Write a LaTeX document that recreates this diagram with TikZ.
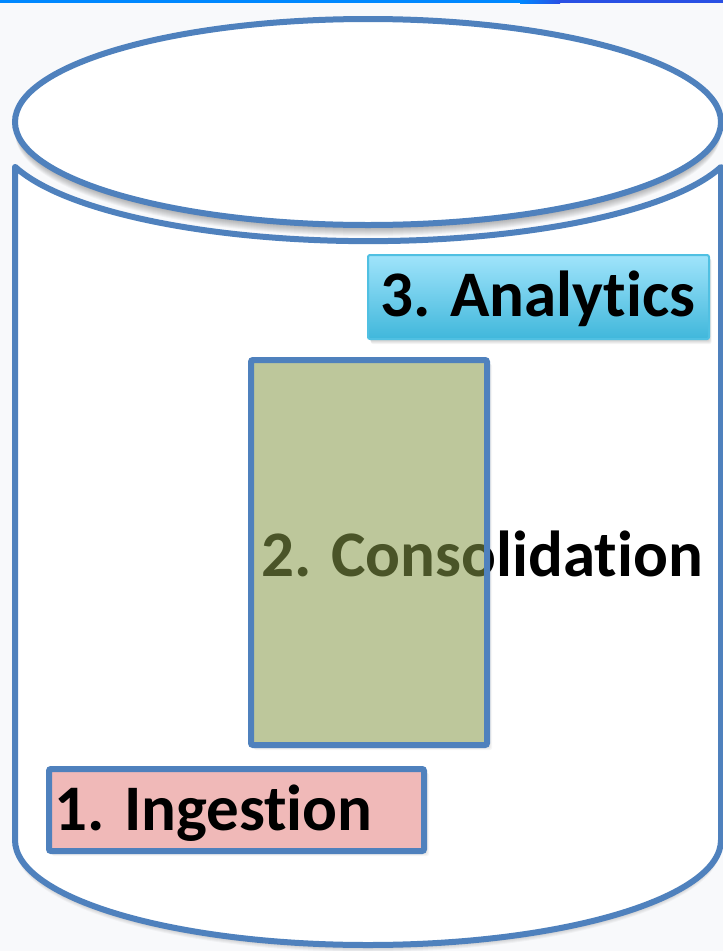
\documentclass[tikz,border=0pt]{standalone}
\usepackage{fontspec}
\setmainfont{Carlito}[Ligatures=NoCommon, Contextuals=NoAlternate]
\definecolor{cylblue}{RGB}{79,129,189}
\definecolor{bg}{RGB}{248,249,251}
\definecolor{barA}{RGB}{0,136,255}
\definecolor{barB}{RGB}{42,80,228}
\definecolor{anaTop}{RGB}{160,228,251}
\definecolor{anaBot}{RGB}{64,183,219}
\definecolor{anaLine}{RGB}{80,192,226}
\definecolor{conFill}{RGB}{135,153,73}
\definecolor{ingFill}{RGB}{240,185,184}
\tikzset{
  txt/.style={inner sep=0pt, anchor=base west, font=\fontsize{65pt}{78pt}\selectfont\bfseries, text=black},
  box/.style={rectangle, rounded corners=2pt, inner sep=0pt},
  cylline/.style={draw=cylblue, line width=6pt},
}
\newcommand\bodypath{(15,167) -- (15,840) arc[start angle=180, end angle=0, x radius=353, y radius=105] -- (721,840) -- (721,167) arc[start angle=17.5, end angle=162.5, x radius=370, y radius=106] -- cycle}
\begin{document}
\begin{tikzpicture}[x=1pt,y=-1pt]
\useasboundingbox (0,0) rectangle (723,951);
\fill[bg] (0,0) rectangle (723,951);
% top bar
\fill[barA] (0,0) rectangle (520,3);
\shade[left color=barA, right color=barB] (520,0) rectangle (560,3);
\fill[barB] (560,0) rectangle (723,3);
% body shadow
\foreach \k in {1,...,7} {
  \fill[black, opacity=0.035, shift={(0,\k)}] \bodypath;
}
% body
\filldraw[fill=white, cylline, line join=round] \bodypath;
% top ellipse shadow
\foreach \k in {2,...,11} {
  \fill[black, opacity=0.035] (368,122+\k) ellipse[x radius=353, y radius=103];
}
% top ellipse
\coordinate (topc) at (368,122);
\filldraw[fill=white, cylline] (topc) ellipse[x radius=353, y radius=103];
% analytics shadow
\foreach \k in {1,...,5} {
  \fill[black, opacity=0.045, rounded corners=2pt] (369+0.4*\k,256+0.6*\k) rectangle (709+0.5*\k,339+\k);
}
\node[box, minimum width=341pt, minimum height=84pt, top color=anaTop, bottom color=anaBot, draw=anaLine, line width=2pt] (ana) at (538.5,297) {};
\node[txt] (anatxt) at (380,316) {3. Analytics};
% consolidation
\foreach \k in {1,...,5} {
  \fill[black, opacity=0.035, rounded corners=2pt] (252+0.4*\k,361+0.6*\k) rectangle (487+\k,745+\k);
}
\fill[white] (251,360) rectangle (487,745);
\node[txt] (contxt) at (261,576) {2. Consolidation};
\node[box, minimum width=236pt, minimum height=385pt, fill=conFill, fill opacity=0.55, draw=cylblue, draw opacity=1, line width=6pt] (con) at (369,552.5) {};
% ingestion
\foreach \k in {1,...,5} {
  \fill[black, opacity=0.035, rounded corners=2pt] (50+0.4*\k,770+0.6*\k) rectangle (424+\k,851+\k);
}
\node[box, minimum width=375pt, minimum height=82pt, fill=ingFill, draw=cylblue, line width=6pt] (ing) at (236.5,810) {};
\node[txt] (ingtxt) at (54,830) {1. Ingestion};
\end{tikzpicture}
\end{document}
